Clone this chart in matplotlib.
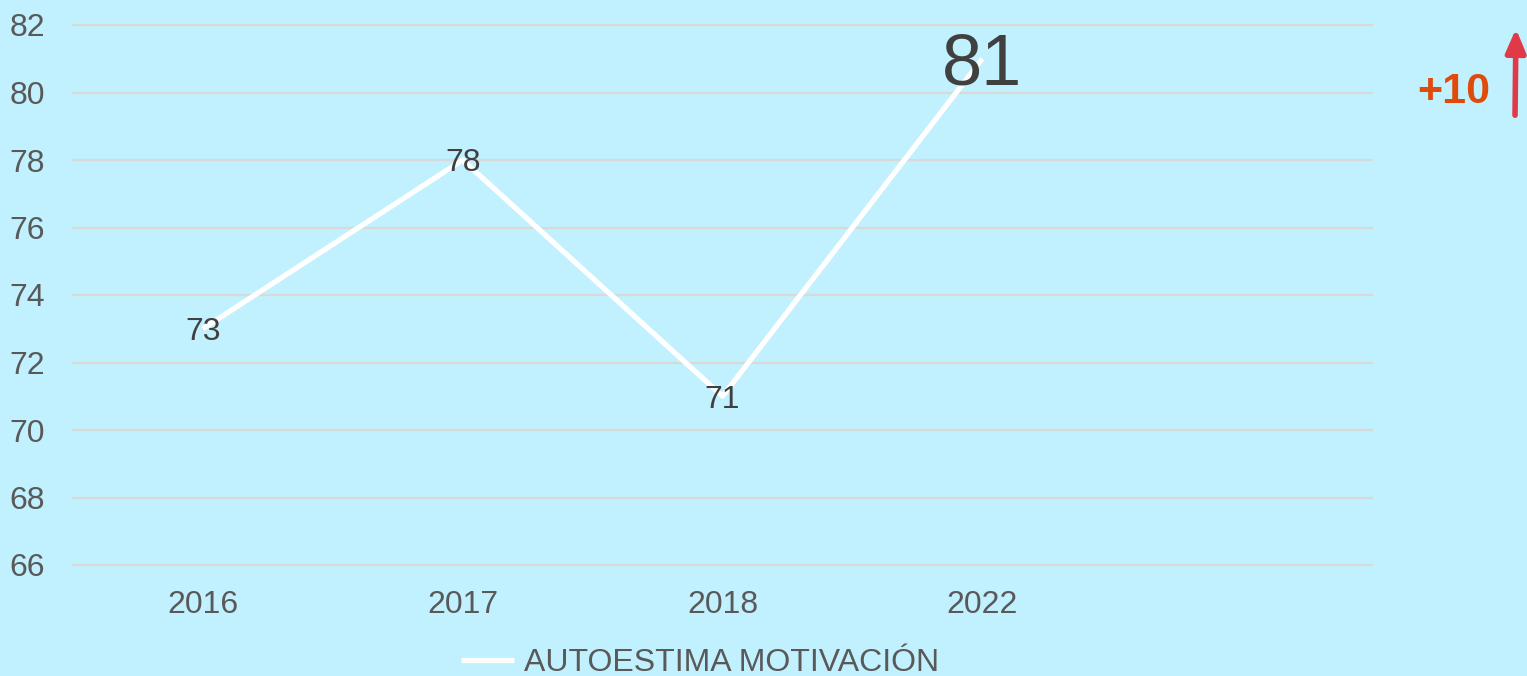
import matplotlib.pyplot as plt
from matplotlib.patches import FancyArrowPatch
import numpy as np

years = ['2016', '2017', '2018', '2022', '']
values = [73, 78, 71, 81]
series_name = 'AUTOESTIMA MOTIVACIÓN'
yticks = [66, 68, 70, 72, 74, 76, 78, 80, 82]
delta_text = '+10'

bg = '#C1F0FE'
plt.rcParams['font.family'] = ['Liberation Sans', 'DejaVu Sans']

fig = plt.figure(figsize=(15.27, 6.76), dpi=100, facecolor=bg)
ax = fig.add_axes([73 / 1527, 1 - 565 / 676, 1299 / 1527, 540 / 676])
ax.set_facecolor(bg)

x = np.arange(len(values))
line, = ax.plot(x, values, color='white', lw=3.8, solid_capstyle='butt', label=series_name)

# data labels, last one much bigger; baseline shifted so digits sit centred on the point
for i, v in enumerate(values):
    fs = 52 if i == len(values) - 1 else 23
    ax.annotate(str(v), (x[i], v), xytext=(0, -0.358 * fs), textcoords='offset points',
                ha='center', va='baseline', fontsize=fs, color='#404040')

ax.set_xlim(-0.5, len(years) - 0.5)
ax.set_ylim(66, 82)
ax.set_xticks(np.arange(len(years)))
ax.set_xticklabels(years)
ax.set_yticks(yticks)
ax.tick_params(length=0, labelsize=23, labelcolor='#595959')
ax.tick_params(axis='y', pad=20)
ax.tick_params(axis='x', pad=18)
ax.grid(axis='y', color='#D9D9D9', lw=1.6)
for gl in ax.get_ygridlines():
    gl.set_clip_on(False)
ax.set_axisbelow(True)
for s in ax.spines.values():
    s.set_visible(False)

fig.legend(handles=[line], loc='center', bbox_to_anchor=(700 / 1527, 1 - 663 / 676),
           frameon=False, fontsize=23, labelcolor='#595959', handlelength=1.65,
           handletextpad=0.3)

# change annotation
fig.text(1454 / 1527, 1 - 92 / 676, delta_text, ha='center', va='center',
         fontsize=31, fontweight='bold', color='#E04A0A')
fig.patches.append(FancyArrowPatch(
    (1515 / 1527, 1 - 118 / 676), (1516 / 1527, 1 - 26 / 676),
    transform=fig.transFigure, arrowstyle='-|>,head_length=14,head_width=6',
    mutation_scale=1, lw=4, color='#E03A48'))

fig.savefig('out.png', dpi=100, facecolor=bg)
